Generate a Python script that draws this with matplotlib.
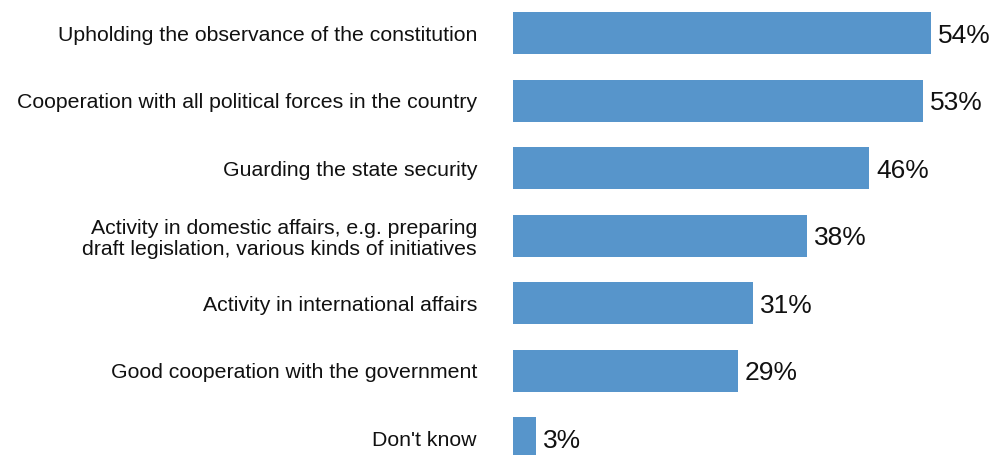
import matplotlib
matplotlib.use("Agg")
import matplotlib.pyplot as plt

plt.rcParams['font.family'] = ['Liberation Sans', 'DejaVu Sans']

categories = [
    "Upholding the observance of the constitution",
    "Cooperation with all political forces in the country",
    "Guarding the state security",
    "Activity in domestic affairs, e.g. preparing\ndraft legislation, various kinds of initiatives",
    "Activity in international affairs",
    "Good cooperation with the government",
    "Don't know",
]
values = [54, 53, 46, 38, 31, 29, 3]

BAR_COLOR = "#5795CB"

fig = plt.figure(figsize=(9.97, 4.55), dpi=100)
ax = fig.add_axes([513 / 997, 0, 1 - 513 / 997, 1])

ys = list(range(len(values)))
ax.barh(ys, values, height=0.62, color=BAR_COLOR)

for y, v in zip(ys, values):
    ax.annotate(f"{v}%", xy=(v, y), xytext=(5, -2), textcoords="offset points",
                ha="left", va="center", fontsize=19, color="#111111")

ax.set_xlim(0, 62.5)
ax.set_ylim(6.25, -0.49)
ax.set_yticks(ys)
ax.set_yticklabels(categories, fontsize=15.3, color="#111111",
                   ha="right", linespacing=1.15)
ax.tick_params(axis="y", length=0, pad=26)
ax.set_xticks([])
for s in ax.spines.values():
    s.set_visible(False)

fig.savefig("out.png", dpi=100)
